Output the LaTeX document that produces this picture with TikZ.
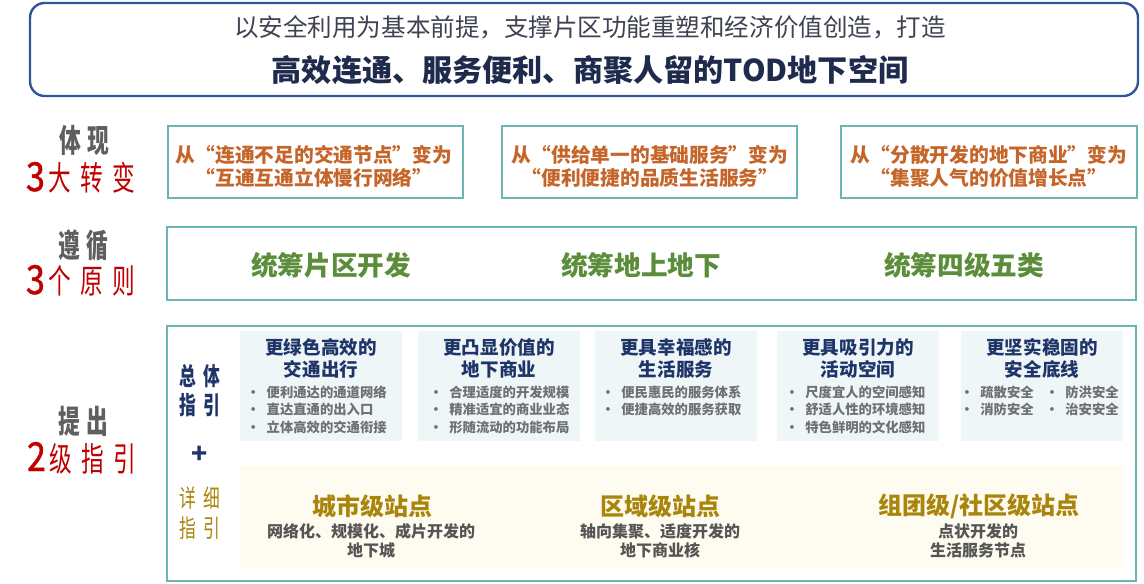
\documentclass[tikz,border=0pt]{standalone}
\usepackage{fontspec}
\usepackage{graphicx}
\setmainfont{Noto Sans CJK SC}
\newfontfamily\condfont{Noto Sans CJK SC}[FakeStretch=0.68]
\newfontfamily\numfont{Noto Sans CJK SC}[FakeStretch=0.85, FakeBold=1.2]
\definecolor{topblue}{HTML}{2F5597}
\definecolor{tealb}{HTML}{6BB6B3}
\definecolor{orangeT}{HTML}{C5652A}
\definecolor{greenT}{HTML}{5B8D3A}
\definecolor{navyT}{HTML}{1F3468}
\definecolor{goldT}{HTML}{A9850C}
\definecolor{grayT}{HTML}{5F5F5F}
\definecolor{redT}{HTML}{C00000}
\definecolor{lightblueF}{HTML}{EEF6F8}
\definecolor{creamF}{HTML}{FEFCF1}
\definecolor{bulgray}{HTML}{707070}
\definecolor{subgray}{HTML}{555555}
\definecolor{topgray}{HTML}{3F4250}
\definecolor{topnavy}{HTML}{1E2B4D}
\newcommand\bul{\makebox[20pt][c]{·}}
\tikzset{
  tbox/.style={draw=tealb, line width=1.5pt},
  lbox/.style={fill=lightblueF, minimum width=162*0.75pt, minimum height=110*0.75pt},
  chgtext/.style={font=\bfseries\fontsize{14.8}{17.3}\selectfont, text=orangeT, align=center},
  prtext/.style={font=\bfseries\fontsize{20}{24}\selectfont, text=greenT},
  ttl/.style={font=\bfseries\fontsize{13.9}{16.9}\selectfont, text=navyT, align=center},
  bultext/.style={font=\bfseries\fontsize{10}{13.1}\selectfont, text=bulgray, align=left, anchor=west},
  sttl/.style={font=\bfseries\fontsize{18}{20}\selectfont, text=goldT},
  ssub/.style={font=\bfseries\fontsize{12}{14.25}\selectfont, text=subgray, align=center},
  graylab/.style={font=\condfont\bfseries\fontsize{24}{26}\selectfont, text=grayT, anchor=base west},
  redlab/.style={font=\condfont\fontsize{25}{26}\selectfont, text=redT, anchor=base west},
  navylab/.style={font=\condfont\bfseries\fontsize{18.5}{20}\selectfont, text=navyT},
  goldlab/.style={font=\condfont\fontsize{18.5}{20}\selectfont, text=goldT},
}
\newcommand\bignum[1]{{\numfont\fontsize{30}{31}\selectfont #1}}
\begin{document}
\begin{tikzpicture}[x=0.75pt,y=-0.75pt, every node/.style={inner sep=0pt, outer sep=0pt}]
\useasboundingbox (0,0) rectangle (1144,584);

% top box
\node[name=topbox, draw=topblue, line width=1.8pt, rounded corners=11pt,
      minimum width=1108*0.75pt, minimum height=93*0.75pt] at (584,49.5) {};
\node[name=topl1, font=\fontsize{18.4}{20}\selectfont, text=topgray] at (590,27)
  {以安全利用为基本前提，支撑片区功能重塑和经济价值创造，打造};
\node[name=topl2, font=\bfseries\fontsize{22.6}{26}\selectfont, text=topnavy] at (590,70)
  {高效连通、服务便利、商聚人留的TOD地下空间};

% left labels
\node[name=l1a, graylab] at (59,153) {体\hspace{5pt}现};
\node[name=l1b, redlab] at (26,191) {\bignum{3}\hspace{3pt}大\hspace{7pt}转\hspace{7pt}变};
\node[name=l2a, graylab] at (58,258) {遵\hspace{5pt}循};
\node[name=l2b, redlab] at (26,294) {\bignum{3}\hspace{3pt}个\hspace{7pt}原\hspace{7pt}则};
\node[name=l3a, graylab] at (58,433) {提\hspace{5pt}出};
\node[name=l3b, redlab] at (27,471) {\bignum{2}\hspace{3pt}级\hspace{7pt}指\hspace{7pt}引};

% row 1
\node[name=b1, tbox, minimum width=295*0.75pt, minimum height=72*0.75pt] at (315,162.5) {};
\node[name=b2, tbox, minimum width=295*0.75pt, minimum height=72*0.75pt] at (649.5,162.5) {};
\node[name=b3, tbox, minimum width=296*0.75pt, minimum height=72*0.75pt] at (989,162.5) {};
\node[name=b1t, chgtext] at (314,166) {从“连通不足的交通节点”变为\\“互通互通立体慢行网络”};
\node[name=b2t, chgtext] at (650,166) {从“供给单一的基础服务”变为\\“便利便捷的品质生活服务”};
\node[name=b3t, chgtext] at (989,166) {从“分散开发的地下商业”变为\\“集聚人气的价值增长点”};

% row 2
\node[name=r2, tbox, minimum width=969*0.75pt, minimum height=73*0.75pt] at (651.5,263.5) {};
\node[name=p1, prtext] at (331,265) {统筹片区开发};
\node[name=p2, prtext] at (641,265) {统筹地上地下};
\node[name=p3, prtext] at (964,265) {统筹四级五类};

% row 3
\node[name=r3, tbox, minimum width=969*0.75pt, minimum height=255*0.75pt] at (651.5,453.5) {};
\node[name=g1, navylab] at (200,376) {总\hspace{6pt}体};
\node[name=g2, navylab] at (200,405) {指\hspace{6pt}引};
\node[name=plus, font=\bfseries\fontsize{20}{22}\selectfont, text=navyT] at (200,455) {+};
\node[name=d1, goldlab] at (200,498) {详\hspace{6pt}细};
\node[name=d2, goldlab] at (200,528) {指\hspace{6pt}引};

\node[name=la, lbox] at (321,386) {};
\node[name=lb, lbox] at (499,386) {};
\node[name=lc, lbox] at (676,386) {};
\node[name=ld, lbox] at (858,386) {};
\node[name=le, lbox] at (1042,386) {};

\node[name=lat, ttl] at (321,358.5) {更绿色高效的\\交通出行};
\node[name=lbt, ttl] at (499,358.5) {更凸显价值的\\地下商业};
\node[name=lct, ttl] at (676,358.5) {更具幸福感的\\生活服务};
\node[name=ldt, ttl] at (858,358.5) {更具吸引力的\\活动空间};
\node[name=let, ttl] at (1042,358.5) {更坚实稳固的\\安全底线};

\node[name=lab, bultext] at (240,409.5) {\bul 便利通达的通道网络\\\bul 直达直通的出入口\\\bul 立体高效的交通衔接};
\node[name=lbb, bultext] at (422.7,409.5) {\bul 合理适度的开发规模\\\bul 精准适宜的商业业态\\\bul 形随流动的功能布局};
\node[name=lcb, bultext] at (594.7,400.75) {\bul 便民惠民的服务体系\\\bul 便捷高效的服务获取};
\node[name=ldb, bultext] at (778.7,409.5) {\bul 尺度宜人的空间感知\\\bul 舒适人性的环境感知\\\bul 特色鲜明的文化感知};
\node[name=leb1, bultext] at (953.7,400.75) {\bul 疏散安全\\\bul 消防安全};
\node[name=leb2, bultext] at (1038.7,400.75) {\bul 防洪安全\\\bul 治安安全};

\node[name=cr, fill=creamF, minimum width=884*0.75pt, minimum height=102*0.75pt] at (682,517) {};
\node[name=s1, sttl] at (372,506) {城市级站点};
\node[name=s2, sttl] at (660,506) {区域级站点};
\node[name=s3, sttl] at (979,506) {组团级/社区级站点};
\node[name=s1s, ssub] at (371,540.5) {网络化、规模化、成片开发的\\地下城};
\node[name=s2s, ssub] at (660,540.5) {轴向集聚、适度开发的\\地下商业核};
\node[name=s3s, ssub] at (978,540.5) {点状开发的\\生活服务节点};
\end{tikzpicture}
\end{document}
